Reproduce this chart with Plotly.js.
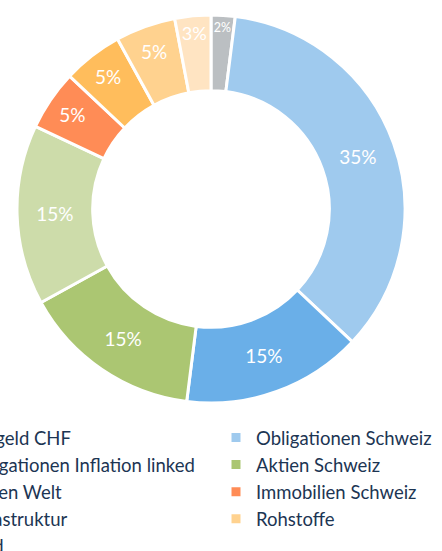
<!DOCTYPE html>
<html>
<head>
<meta charset="utf-8">
<script src="https://cdn.plot.ly/plotly-3.0.1.min.js"></script>
<style>
  html, body { margin: 0; padding: 0; background: #fff; overflow: hidden; width: 442px; height: 551px; }
  #chart { position: absolute; left: -150px; top: 0; width: 800px; height: 700px; }
</style>
</head>
<body>
<div id="chart"></div>
<script>
const categories = [
  "Callgeld CHF",
  "Obligationen Schweiz",
  "Obligationen Inflation linked",
  "Aktien Schweiz",
  "Aktien Welt",
  "Immobilien Schweiz",
  "Infrastruktur",
  "Rohstoffe",
  "Gold"
];
const weights = [2, 35, 15, 15, 15, 5, 5, 5, 3];
const colors = ["#bbbfc2", "#9fcaee", "#6aafe8", "#abc672", "#cddcaa", "#ff8c56", "#ffbd5c", "#ffd28f", "#ffe4c2"];

const W = 800, H = 700;

const trace = {
  type: "pie",
  labels: categories,
  values: weights,
  sort: false,
  direction: "clockwise",
  rotation: 0,
  hole: 0.61,
  marker: { colors: colors, line: { color: "#ffffff", width: 3 } },
  texttemplate: "%{value}%",
  textposition: "inside",
  insidetextorientation: "horizontal",
  textfont: { color: "#ffffff", size: 19, family: "Lato, sans-serif" },
  domain: { x: [167/W, 555/W], y: [1 - 403/H, 1 - 15/H] },
  hoverinfo: "label+percent"
};

const layout = {
  width: W,
  height: H,
  margin: { l: 0, r: 0, t: 0, b: 0 },
  paper_bgcolor: "#ffffff",
  showlegend: true,
  legend: {
    orientation: "h",
    x: 75/W,
    xanchor: "left",
    y: 1 - 419/H,
    yanchor: "top",
    entrywidth: 246,
    entrywidthmode: "pixels",
    traceorder: "normal",
    font: { family: "Lato, sans-serif", size: 18.5, color: "#1c3553" },
    bgcolor: "rgba(0,0,0,0)"
  }
};

Plotly.newPlot("chart", [trace], layout, { displayModeBar: false, staticPlot: true });
</script>
</body>
</html>
